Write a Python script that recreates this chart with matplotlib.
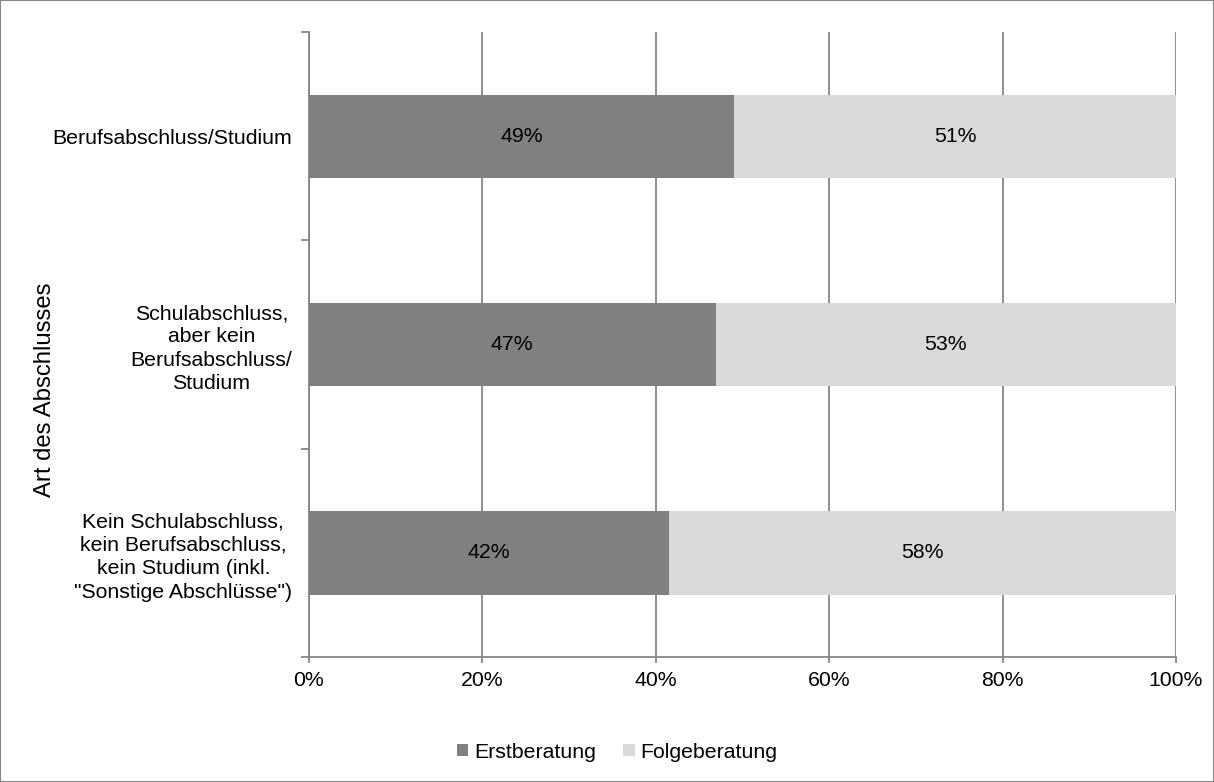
import matplotlib
matplotlib.use("Agg")
import matplotlib.pyplot as plt
import numpy as np

plt.rcParams["font.family"] = ["Liberation Sans", "DejaVu Sans"]

# Data (share of consultations, top to bottom)
categories = [
    "Berufsabschluss/Studium",
    "Schulabschluss,\naber kein\nBerufsabschluss/\nStudium",
    "Kein Schulabschluss,\nkein Berufsabschluss,\nkein Studium (inkl.\n\"Sonstige Abschlüsse\")",
]
erstberatung = [49.0, 46.9, 41.5]
folgeberatung = [51.0, 53.1, 58.5]
erst_labels = ["49%", "47%", "42%"]
folge_labels = ["51%", "53%", "58%"]

DARK = "#808080"
LIGHT = "#d9d9d9"
GRID = "#868686"
FS = 15.3

fig = plt.figure(figsize=(12.14, 7.82), dpi=100)
ax = fig.add_axes([309 / 1214, 1 - 657 / 782, (1176 - 309) / 1214, (657 - 32) / 782])

y = np.arange(len(categories))
ax.barh(y, erstberatung, height=0.4, color=DARK, label="Erstberatung", zorder=3)
ax.barh(y, folgeberatung, left=erstberatung, height=0.4, color=LIGHT,
        label="Folgeberatung", zorder=3)

for i in range(len(categories)):
    ax.text(erstberatung[i] / 2, y[i], erst_labels[i], ha="center", va="center",
            fontsize=FS, color="black", zorder=4)
    ax.text(erstberatung[i] + folgeberatung[i] / 2, y[i], folge_labels[i],
            ha="center", va="center", fontsize=FS, color="black", zorder=4)

ax.set_xlim(0, 100)
ax.set_ylim(len(categories) - 0.5, -0.5)
ax.set_xticks(np.arange(0, 101, 20))
ax.set_xticklabels([f"{v}%" for v in range(0, 101, 20)], fontsize=FS)
ax.xaxis.grid(True, color=GRID, linewidth=1.3, zorder=0)

# category labels at centres, tick marks at boundaries
ax.set_yticks(y)
ax.set_yticklabels(categories, fontsize=FS, ha="right", multialignment="center",
                   linespacing=1.29)
ax.tick_params(axis="y", length=0, pad=12)
ax.set_yticks(np.arange(-0.5, len(categories)), minor=True)
ax.tick_params(axis="y", which="minor", length=6, color=GRID, width=1.3)
ax.tick_params(axis="x", length=4, color=GRID, width=1.3, pad=6)

for side in ["top", "right"]:
    ax.spines[side].set_visible(False)
for side in ["left", "bottom"]:
    ax.spines[side].set_color(GRID)
    ax.spines[side].set_linewidth(1.3)

ax.set_ylabel("Art des Abschlusses", fontsize=17.2)
ax.yaxis.set_label_coords((56 - 309) / 867, 1 - (390 - 32) / 625)

fig.legend(loc="center", bbox_to_anchor=(617 / 1214, 1 - 752 / 782), ncol=2,
           frameon=False, fontsize=FS, handlelength=0.55, handleheight=0.55,
           handletextpad=0.25, columnspacing=1.3)

fig.patches.append(plt.Rectangle((0, 0), 1, 1, transform=fig.transFigure,
                                 fill=False, edgecolor=GRID, linewidth=1.5))

fig.savefig("out.png", dpi=100)
